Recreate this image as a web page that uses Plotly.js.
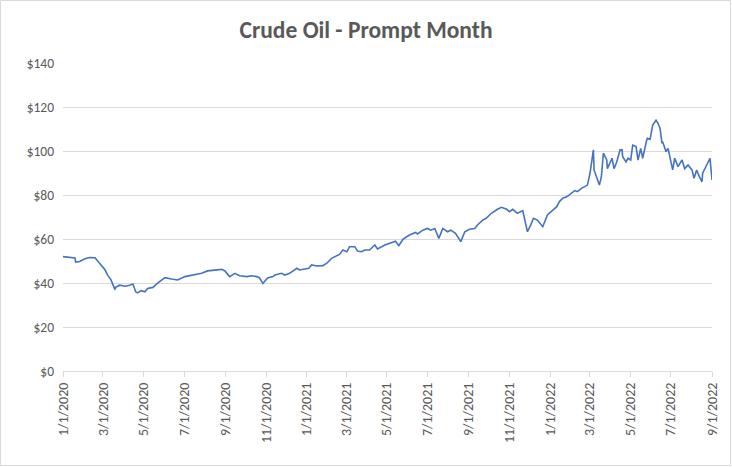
<!DOCTYPE html>
<html>
<head>
<meta charset="utf-8">
<script src="https://cdn.plot.ly/plotly-3.0.1.min.js"></script>
<style>
html,body{margin:0;padding:0;background:#fff;}
#chart{width:732px;height:467px;}
</style>
</head>
<body>
<div id="chart"></div>
<script>
const chartTitle = "Crude Oil - Prompt Month";
const dates = [
"2020-01-01","2020-01-11","2020-01-19","2020-01-20","2020-01-26","2020-02-03","2020-02-10","2020-02-18","2020-02-22","2020-02-27",
"2020-03-04","2020-03-08","2020-03-13","2020-03-19","2020-03-20","2020-03-26","2020-04-03","2020-04-10","2020-04-15","2020-04-19",
"2020-04-22","2020-04-27","2020-05-03","2020-05-07","2020-05-15","2020-05-22","2020-06-02","2020-06-12","2020-06-21","2020-07-02",
"2020-07-17","2020-07-27","2020-08-05","2020-08-16","2020-08-26","2020-08-31","2020-09-07","2020-09-15","2020-09-22","2020-10-03",
"2020-10-10","2020-10-18","2020-10-22","2020-10-27","2020-11-03","2020-11-11","2020-11-14","2020-11-24","2020-11-29","2020-12-06",
"2020-12-17","2020-12-21","2021-01-04","2021-01-08","2021-01-16","2021-01-25","2021-01-31","2021-02-07","2021-02-15","2021-02-19",
"2021-02-24","2021-03-02","2021-03-06","2021-03-14","2021-03-18","2021-03-24","2021-03-29","2021-04-05","2021-04-13","2021-04-17",
"2021-04-28","2021-05-07","2021-05-14","2021-05-19","2021-05-25","2021-06-04","2021-06-13","2021-06-16","2021-06-24","2021-07-01",
"2021-07-06","2021-07-12","2021-07-18","2021-07-24","2021-07-31","2021-08-05","2021-08-12","2021-08-20","2021-08-26","2021-09-02",
"2021-09-10","2021-09-14","2021-09-22","2021-09-27","2021-10-05","2021-10-14","2021-10-20","2021-10-28","2021-11-01","2021-11-06",
"2021-11-13","2021-11-21","2021-11-25","2021-11-28","2021-12-03","2021-12-07","2021-12-13","2021-12-21","2021-12-28","2022-01-05",
"2022-01-11","2022-01-15","2022-01-20","2022-01-26","2022-02-02","2022-02-07","2022-02-11","2022-02-17","2022-02-22","2022-02-26",
"2022-03-02","2022-03-07","2022-03-08","2022-03-11","2022-03-16","2022-03-19","2022-03-22","2022-03-27","2022-03-28","2022-04-04",
"2022-04-07","2022-04-11","2022-04-16","2022-04-19","2022-04-20","2022-04-25","2022-04-28","2022-05-02","2022-05-05","2022-05-10",
"2022-05-13","2022-05-17","2022-05-20","2022-05-26","2022-05-27","2022-05-31","2022-06-04","2022-06-09","2022-06-12","2022-06-15",
"2022-06-18","2022-06-19","2022-06-24","2022-06-27","2022-07-01","2022-07-04","2022-07-07","2022-07-12","2022-07-18","2022-07-22",
"2022-07-27","2022-08-02","2022-08-05","2022-08-09","2022-08-12","2022-08-17","2022-08-18","2022-08-23","2022-08-26","2022-08-29",
"2022-09-01"
];
const prices = [
52.0,51.8,51.4,49.5,49.8,51.0,51.6,51.5,50.0,48.0,
46.0,43.6,41.4,37.0,38.0,39.0,38.5,39.0,39.5,36.0,
35.5,36.5,36.0,37.5,38.0,40.0,42.4,41.8,41.4,42.9,
43.6,44.4,45.5,45.9,46.2,45.5,42.9,44.4,43.3,42.9,
43.3,42.9,42.3,39.8,42.3,42.9,43.6,44.4,43.6,44.4,
46.7,45.9,46.7,48.2,47.7,47.9,49.0,51.2,52.3,53.0,
55.0,54.2,56.5,56.5,54.5,54.2,55.0,55.0,57.3,55.5,
57.3,58.3,59.0,57.0,59.8,61.8,63.0,62.3,64.0,64.8,
64.0,64.8,60.3,64.8,63.3,64.0,62.6,58.8,63.3,64.4,
64.8,66.4,68.6,69.4,71.7,73.5,74.4,73.5,72.4,73.5,
71.7,72.9,67.1,63.3,66.4,69.4,68.6,65.6,70.9,73.2,
74.7,77.0,78.5,79.2,80.8,82.0,81.5,83.0,83.8,84.5,
90.0,100.5,91.4,89.0,84.5,88.3,99.0,95.9,92.0,96.7,
92.0,95.0,100.5,100.5,97.4,95.0,96.7,95.9,102.7,102.0,
95.9,101.2,96.7,105.0,105.8,105.3,111.8,114.0,112.6,110.3,
103.5,104.2,99.7,101.2,95.9,91.4,96.7,92.9,95.9,92.0,
93.6,91.4,87.6,91.4,89.0,86.0,89.9,92.9,95.0,96.7,
86.8
];
const tickDates = ["2020-01-01","2020-03-01","2020-05-01","2020-07-01","2020-09-01","2020-11-01",
"2021-01-01","2021-03-01","2021-05-01","2021-07-01","2021-09-01","2021-11-01",
"2022-01-01","2022-03-01","2022-05-01","2022-07-01","2022-09-01"];
const tickLabels = ["1/1/2020","3/1/2020","5/1/2020","7/1/2020","9/1/2020","11/1/2020",
"1/1/2021","3/1/2021","5/1/2021","7/1/2021","9/1/2021","11/1/2021",
"1/1/2022","3/1/2022","5/1/2022","7/1/2022","9/1/2022"];
const yTicks = [0,20,40,60,80,100,120,140];
const yLabels = ["$0","$20","$40","$60","$80","$100","$120","$140"];

const W = 732, H = 467;
const m = {l:63, r:20, t:63, b:96};
const pw = W - m.l - m.r, ph = H - m.t - m.b;

const font = "Calibri, 'Open Sans', 'Noto Sans', sans-serif";
const trace = {
  x: dates, y: prices, type: 'scatter', mode: 'lines',
  line: {color: '#4472C4', width: 1.6},
  hoverinfo: 'skip'
};
const layout = {
  width: W, height: H,
  margin: m,
  paper_bgcolor: '#fff', plot_bgcolor: '#fff',
  showlegend: false,
  title: {text: chartTitle, x: 0.5, xref: 'container', xanchor: 'center', yref: 'container', y: 1 - 30/H, yanchor: 'middle',
          font: {family: font, size: 23.5, color: '#595959', weight: 'bold'}},
  xaxis: {
    type: 'date', range: ['2020-01-01','2022-09-01'],
    tickmode: 'array', tickvals: tickDates, ticktext: tickLabels,
    tickangle: -90, ticks: 'outside', ticklen: 5, tickcolor: '#d9d9d9',
    showgrid: false, showline: true, linecolor: '#d9d9d9', linewidth: 1,
    zeroline: false,
    tickfont: {family: font, size: 14, color: '#595959'}
  },
  yaxis: {
    range: [0,140], tickmode: 'array', tickvals: yTicks, ticktext: yLabels,
    showgrid: true, gridcolor: '#d9d9d9', gridwidth: 1,
    zeroline: false, showline: false, ticks: '', ticklabelstandoff: 8,
    tickfont: {family: font, size: 13.5, color: '#595959'}
  },
  shapes: [{
    type: 'rect', xref: 'paper', yref: 'paper',
    x0: -(m.l - 0.5)/pw, x1: 1 + (m.r - 1.5)/pw,
    y0: -(m.b - 1.5)/ph, y1: 1 + (m.t - 0.5)/ph,
    line: {color: '#d9d9d9', width: 1}, fillcolor: 'rgba(0,0,0,0)', layer: 'below'
  }]
};
Plotly.newPlot('chart', [trace], layout, {displayModeBar: false, staticPlot: true});
</script>
</body>
</html>
